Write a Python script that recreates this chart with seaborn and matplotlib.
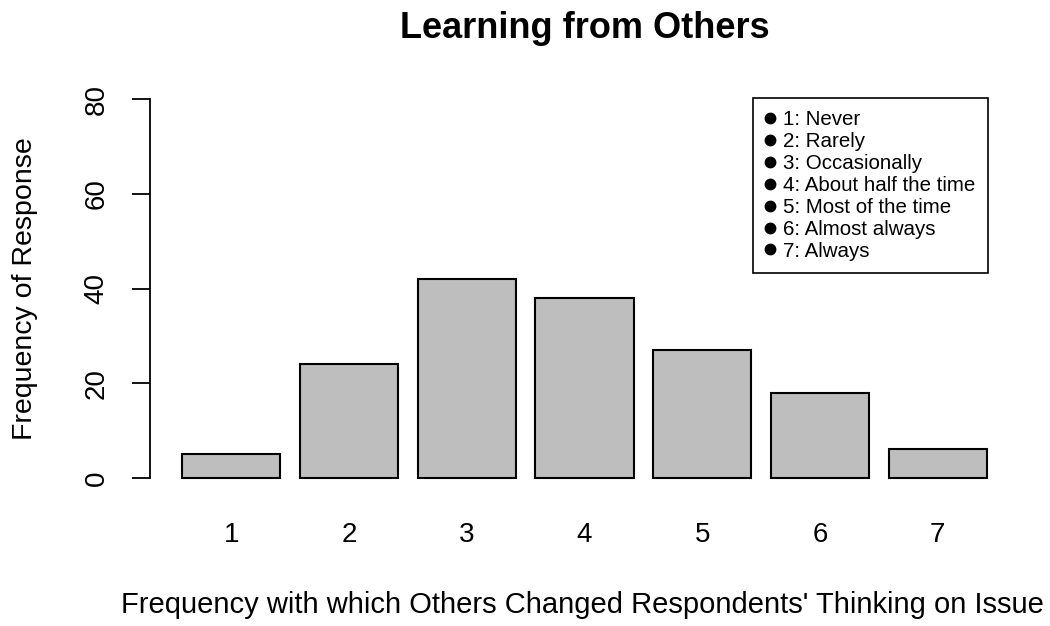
import seaborn as sns
import matplotlib.pyplot as plt
from matplotlib.lines import Line2D

# valores
categorias = ["1", "2", "3", "4", "5", "6", "7"]
frecuencias = [5, 24, 42, 38, 27, 18, 6]
etiquetas_leyenda = [
    "1: Never",
    "2: Rarely",
    "3: Occasionally",
    "4: About half the time",
    "5: Most of the time",
    "6: Almost always",
    "7: Always",
]
yticks = [0, 20, 40, 60, 80]

sns.set_style("white")
plt.rcParams["font.family"] = ["Liberation Sans", "DejaVu Sans"]
plt.rcParams["text.color"] = "black"
plt.rcParams["axes.labelcolor"] = "black"

fig = plt.figure(figsize=(10.5, 6.26), dpi=100)
ax = fig.add_axes([150 / 1050, 1 - 493 / 626, 869 / 1050, 409 / 626])

sns.barplot(x=categorias, y=frecuencias, color="#BEBEBE", saturation=1,
            edgecolor="black", linewidth=1.5, width=1 / 1.2, ax=ax)

ax.set_xlim(-0.69, 6.69)
ax.set_ylim(-3.2, 83.2)
ax.set_yticks(yticks)
ax.set_yticklabels([str(v) for v in yticks], rotation=90, va="center")
ax.tick_params(axis="y", left=True, length=13, width=1.3, pad=16, labelsize=20,
               colors="black")
ax.tick_params(axis="x", bottom=False, length=0, pad=21, labelsize=20, colors="black")

for lado in ["top", "right", "bottom"]:
    ax.spines[lado].set_visible(False)
ax.spines["left"].set_bounds(0, 80)
ax.spines["left"].set_linewidth(1.3)
ax.spines["left"].set_color("black")

ax.set_title("Learning from Others", fontsize=26, fontweight="bold", y=1.112, pad=0)
ax.set_xlabel("Frequency with which Others Changed Respondents' Thinking on Issue",
              fontsize=21)
ax.xaxis.set_label_coords(0.498, -0.24)
ax.set_ylabel("Frequency of Response", fontsize=20.5)
ax.yaxis.set_label_coords(-0.129, 0.5)

marcadores = [Line2D([], [], marker="o", color="black", linestyle="none", markersize=7.5)
              for _ in etiquetas_leyenda]
leg = fig.legend(marcadores, etiquetas_leyenda, loc="upper right",
                 bbox_to_anchor=(988 / 1050, 1 - 98 / 626), fontsize=14.8,
                 frameon=True, fancybox=False, edgecolor="black", framealpha=1,
                 handlelength=0.5, handletextpad=0.4, labelspacing=0.14,
                 borderpad=0.6, borderaxespad=0)
leg.get_frame().set_linewidth(1.2)

plt.savefig("out.png", dpi=100)
